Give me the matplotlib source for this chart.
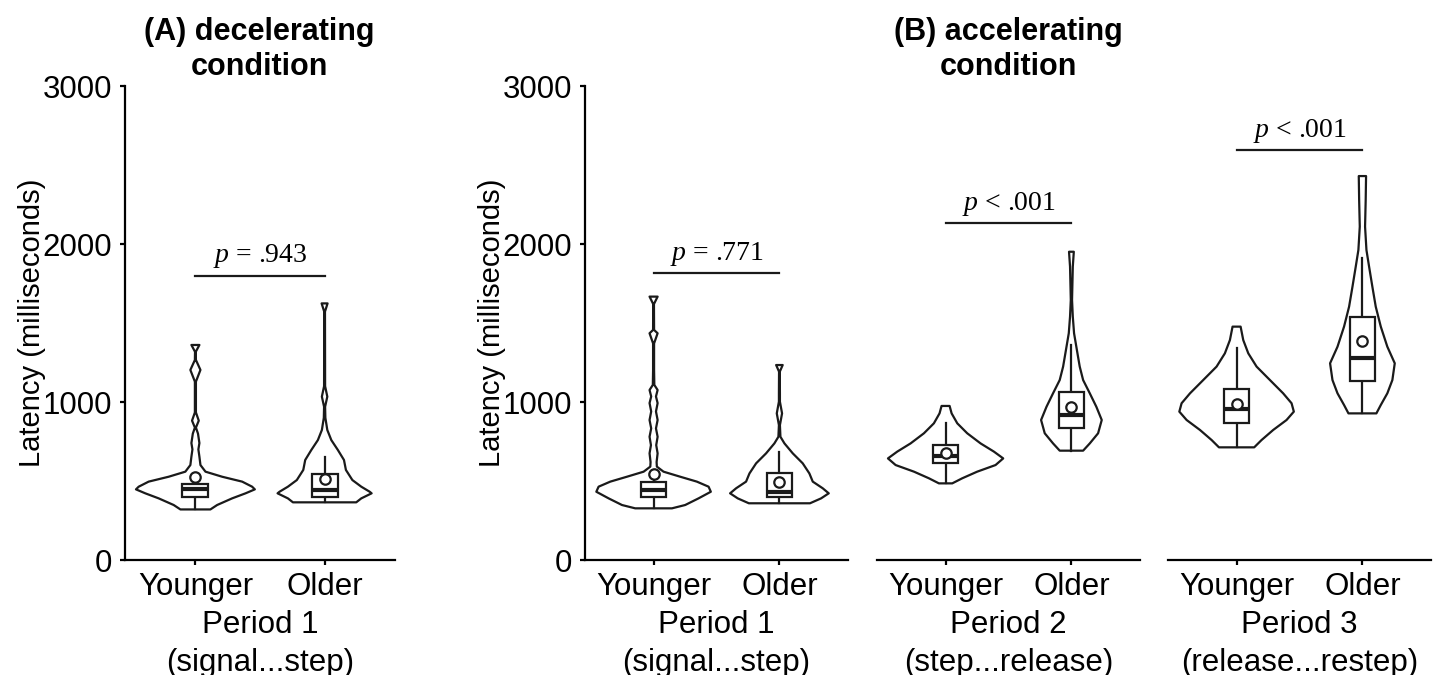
import matplotlib
matplotlib.use('Agg')
import matplotlib.pyplot as plt
import numpy as np

plt.rcParams['font.family'] = ['Liberation Sans', 'DejaVu Sans']
plt.rcParams['mathtext.fontset'] = 'custom'
plt.rcParams['mathtext.it'] = 'Liberation Serif:italic'
plt.rcParams['mathtext.rm'] = 'Liberation Serif'

# ---------------- data ----------------
groups = ['Younger', 'Older']
period_labels = ['Period 1\n(signal...step)', 'Period 1\n(signal...step)',
                 'Period 2\n(step...release)', 'Period 3\n(release...restep)']
p_labels = ['$p$ = .943', '$p$ = .771', '$p$ < .001', '$p$ < .001']
p_line_y = [1800, 1818, 2131, 2595]
yticks = [0, 1000, 2000, 3000]

# violin outlines: latency (ms) and half-width (category units)
A_young_lat = [1361, 1318, 1266, 1203, 1129, 1050, 960, 934, 882, 838, 800, 740, 700, 654, 601,
               559, 527, 496, 464, 447, 422, 390, 348, 320]
A_young_w = [0.031, 0.003, 0.004, 0.039, 0.004, 0.004, 0.004, 0.004, 0.026, 0.004, 0.020, 0.031,
             0.023, 0.031, 0.039, 0.078, 0.207, 0.362, 0.439, 0.460, 0.388, 0.284, 0.168, 0.116]
A_old_lat = [1624, 1572, 1100, 1034, 970, 900, 823, 759, 696, 633, 570, 506, 464, 432, 422, 390, 365]
A_old_w = [0.023, 0.003, 0.004, 0.021, 0.004, 0.006, 0.021, 0.052, 0.103, 0.150, 0.165, 0.215,
           0.284, 0.349, 0.364, 0.284, 0.245]

B1_young_lat = [1667, 1620, 1456, 1435, 1371, 1200, 1108, 1076, 1035, 993, 940, 886, 833, 780,
                727, 675, 620, 591, 559, 527, 496, 464, 432, 390, 348, 327]
B1_young_w = [0.032, 0.003, 0.004, 0.032, 0.004, 0.004, 0.006, 0.032, 0.019, 0.032, 0.019, 0.032,
              0.019, 0.032, 0.021, 0.032, 0.024, 0.026, 0.079, 0.212, 0.344, 0.437, 0.455, 0.357,
              0.251, 0.146]
B1_old_lat = [1234, 1192, 1050, 1002, 928, 854, 780, 738, 675, 612, 548, 496, 454, 422, 390, 359]
B1_old_w = [0.026, 0.003, 0.004, 0.004, 0.021, 0.004, 0.008, 0.040, 0.106, 0.185, 0.238, 0.265,
            0.344, 0.392, 0.331, 0.243]

B2_young_lat = [975, 928, 865, 802, 738, 686, 643, 601, 559, 517, 485]
B2_young_w = [0.032, 0.048, 0.093, 0.172, 0.278, 0.384, 0.458, 0.397, 0.251, 0.132, 0.053]
B2_old_lat = [1951, 1857, 1646, 1540, 1435, 1308, 1224, 1139, 1055, 970, 886, 802, 738, 692]
B2_old_w = [0.019, 0.011, 0.005, 0.011, 0.021, 0.048, 0.066, 0.093, 0.146, 0.198, 0.241, 0.212,
            0.146, 0.093]

B3_young_lat = [1477, 1392, 1308, 1224, 1139, 1055, 992, 939, 886, 823, 759, 713]
B3_young_w = [0.032, 0.053, 0.093, 0.159, 0.265, 0.370, 0.437, 0.455, 0.397, 0.291, 0.198, 0.140]
B3_old_lat = [2430, 2278, 2110, 1962, 1857, 1730, 1603, 1477, 1350, 1245, 1139, 1055, 981, 928]
B3_old_w = [0.029, 0.026, 0.021, 0.032, 0.053, 0.079, 0.106, 0.146, 0.198, 0.257, 0.238, 0.198,
            0.146, 0.111]

# box-plot statistics per panel: [Younger, Older]
q1 = [[399, 401], [401, 397], [612, 833], [869, 1133]]
median = [[447, 440], [443, 432], [658, 918], [954, 1280]]
q3 = [[483, 542], [496, 553], [728, 1065], [1080, 1540]]
whisk_lo = [[320, 365], [327, 359], [485, 692], [713, 928]]
whisk_hi = [[530, 654], [550, 686], [865, 1361], [1340, 1913]]
means = [[524, 511], [542, 496], [679, 970], [985, 1388]]

violins = [
    [(A_young_lat, A_young_w), (A_old_lat, A_old_w)],
    [(B1_young_lat, B1_young_w), (B1_old_lat, B1_old_w)],
    [(B2_young_lat, B2_young_w), (B2_old_lat, B2_old_w)],
    [(B3_young_lat, B3_young_w), (B3_old_lat, B3_old_w)],
]

# ---------------- layout ----------------
W, H = 1438, 675
fig = plt.figure(figsize=(W / 100, H / 100), dpi=100)

def px_axes(left, right, top=86, bottom=560):
    return [left / W, (H - bottom) / H, (right - left) / W, (bottom - top) / H]

axes_px = [(125, 395), (585, 848), (877, 1140), (1168, 1431)]
LW = 1.6
INK = '#1a1a1a'
box_hw = 0.1

for i, (l, r) in enumerate(axes_px):
    ax = fig.add_axes(px_axes(l, r))
    ax.set_xlim(-0.545, 1.545)
    ax.set_ylim(0, 3000)
    for s in ['top', 'right']:
        ax.spines[s].set_visible(False)
    ax.spines['bottom'].set_linewidth(LW)
    ax.spines['left'].set_linewidth(LW)
    ax.set_xticks([0, 1])
    ax.set_xticklabels(groups)
    ax.tick_params(axis='x', length=3.5, width=LW, pad=5, labelsize=22.5)
    if i < 2:
        ax.set_yticks(yticks)
        ax.tick_params(axis='y', length=3.5, width=LW, pad=6, labelsize=22.5)
        ax.set_ylabel('Latency (milliseconds)', fontsize=21)
        ax.yaxis.set_label_coords(-79 / (r - l), 0.5)
    else:
        ax.spines['left'].set_visible(False)
        ax.set_yticks([])
    ax.set_xlabel(period_labels[i], fontsize=22.5, linespacing=1.34)
    ax.xaxis.set_label_coords(0.5, -(610 - 560) / 474)
    ax.xaxis.label.set_verticalalignment('top')

    for j in range(2):
        lat, w = violins[i][j]
        lat = np.asarray(lat, float)
        w = np.asarray(w, float)
        xs = np.concatenate([j + w, (j - w)[::-1]])
        ys = np.concatenate([lat, lat[::-1]])
        ax.fill(xs, ys, facecolor='white', edgecolor=INK, linewidth=LW, zorder=1,
                joinstyle='round')
        # whiskers
        ax.plot([j, j], [whisk_lo[i][j], q1[i][j]], color=INK, lw=LW, zorder=2)
        ax.plot([j, j], [q3[i][j], whisk_hi[i][j]], color=INK, lw=LW, zorder=2)
        # box
        ax.add_patch(plt.Rectangle((j - box_hw, q1[i][j]), 2 * box_hw, q3[i][j] - q1[i][j],
                                   facecolor='white', edgecolor=INK, lw=LW, zorder=3))
        ax.plot([j - box_hw, j + box_hw], [median[i][j]] * 2, color=INK, lw=3.0,
                solid_capstyle='butt', zorder=4)
        ax.plot([j], [means[i][j]], marker='o', ms=7.5, mfc='white', mec=INK, mew=LW,
                zorder=5)

    # significance line
    ax.plot([0, 1], [p_line_y[i]] * 2, color=INK, lw=LW, clip_on=False)
    ax.annotate(p_labels[i], (0.5, p_line_y[i]), xytext=(0, 9.5), textcoords='offset points',
                ha='center', va='baseline', fontsize=20, family='Liberation Serif',
                annotation_clip=False)

fig.text(259 / W, 1 - 17 / H, '(A) decelerating\ncondition', ha='center', va='top',
         fontsize=22, fontweight='bold', linespacing=1.22)
fig.text(1008 / W, 1 - 17 / H, '(B) accelerating\ncondition', ha='center', va='top',
         fontsize=22, fontweight='bold', linespacing=1.22)

fig.savefig('out.png', dpi=100)
